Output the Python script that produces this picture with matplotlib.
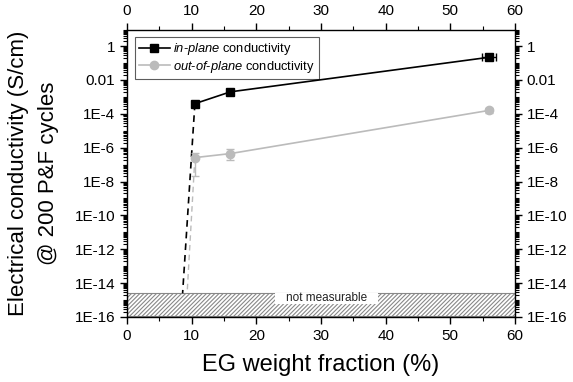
import matplotlib
matplotlib.use("Agg")
import matplotlib.pyplot as plt
import numpy as np
from matplotlib.ticker import FixedLocator, LogLocator, NullFormatter, MultipleLocator
from matplotlib.lines import Line2D

plt.rcParams['font.family'] = ['Liberation Sans', 'DejaVu Sans']
plt.rcParams['mathtext.fontset'] = 'custom'
plt.rcParams['mathtext.it'] = 'Liberation Sans:italic'
plt.rcParams['mathtext.rm'] = 'Liberation Sans'
plt.rcParams['hatch.color'] = '#555555'
plt.rcParams['hatch.linewidth'] = 0.8

# data
inplane_x = [10.5, 16, 56]
inplane_y = [4e-4, 2e-3, 0.22]
inplane_xerr = [0, 0, 1.1]

outplane_x = [10.5, 16, 56]
outplane_y = [2.6e-7, 4.5e-7, 1.6e-4]
outplane_yerr_lo = [2.4e-7, 2.5e-7, 0.5e-4]
outplane_yerr_hi = [2.4e-7, 3.5e-7, 0.6e-4]

# extrapolation (dashed) lines down to non-measurable region
inplane_extrap_x = [10.5, 8.6]
inplane_extrap_y = [4e-4, 2.5e-15]
outplane_extrap_x = [10.5, 9.3]
outplane_extrap_y = [2.6e-7, 2.5e-15]

ytick_vals = [1e-16, 1e-14, 1e-12, 1e-10, 1e-8, 1e-6, 1e-4, 1e-2, 1]
ytick_labels = ['1E-16', '1E-14', '1E-12', '1E-10', '1E-8', '1E-6', '1E-4', '0.01', '1']
xtick_vals = [0, 10, 20, 30, 40, 50, 60]

fig = plt.figure(figsize=(5.73, 3.82), dpi=100)
ax = fig.add_axes([0.2216, 0.1702, 0.8988 - 0.2216, 0.9215 - 0.1702])

ax.set_yscale('log')
ax.set_xlim(0, 60)
ax.set_ylim(1e-16, 9)

# not measurable region
ax.fill_between([0, 60], 1.1e-16, 2.6e-15, facecolor='white', edgecolor='#888888',
                hatch='////////', linewidth=0.8, zorder=1)
ax.fill_between([22.9, 38.8], 5.5e-16, 2.7e-15, facecolor='white', edgecolor='none',
                linewidth=0, zorder=1.5)
ax.text(30.8, 1.3e-15, 'not measurable', ha='center', va='center', fontsize=8.5,
        color='#222222', zorder=2)

ax.plot(inplane_extrap_x, inplane_extrap_y, color='black', ls=(0, (4, 3)), lw=1.2, zorder=3)
ax.plot(outplane_extrap_x, outplane_extrap_y, color='#bbbbbb', ls=(0, (4, 3)), lw=1.0, zorder=3)

ax.errorbar(outplane_x, outplane_y, yerr=[outplane_yerr_lo, outplane_yerr_hi],
            color='#bbbbbb', marker='o', ms=6, lw=1.2, capsize=3, elinewidth=1, zorder=4)
ax.errorbar(inplane_x, inplane_y, xerr=inplane_xerr,
            color='black', marker='s', ms=6, lw=1.2, capsize=3, elinewidth=1, zorder=5)

handles = [Line2D([], [], color='black', marker='s', ms=6, lw=1.2),
           Line2D([], [], color='#bbbbbb', marker='o', ms=6, lw=1.2)]
labels = ['$\\it{in}$-$\\it{plane}$ conductivity',
          '$\\it{out}$-$\\it{of}$-$\\it{plane}$ conductivity']
leg = ax.legend(handles, labels, loc='upper left', fontsize=9.3,
                frameon=True, fancybox=False, edgecolor='#333333',
                bbox_to_anchor=(0.02, 0.975), borderpad=0.3, labelspacing=0.15,
                handlelength=2.4, handletextpad=0.3, borderaxespad=0)
leg.get_frame().set_linewidth(0.8)

ax.yaxis.set_major_locator(FixedLocator(ytick_vals))
ax.set_yticklabels(ytick_labels)
ax.yaxis.set_minor_locator(LogLocator(base=10, subs=np.arange(1, 10), numticks=100))
ax.yaxis.set_minor_formatter(NullFormatter())
ax.xaxis.set_major_locator(FixedLocator(xtick_vals))
ax.xaxis.set_minor_locator(MultipleLocator(5))

ax.tick_params(which='both', direction='out', top=True, right=True,
               labeltop=True, labelright=True, labelsize=11)
ax.tick_params(which='major', length=5, width=1)
ax.tick_params(which='minor', length=3, width=0.8)
for s in ax.spines.values():
    s.set_linewidth(1.0)

ax.set_xlabel('EG weight fraction (%)', fontsize=17, labelpad=8)
ax.set_ylabel('Electrical conductivity (S/cm)\n@ 200 P&F cycles', fontsize=16,
              labelpad=11, linespacing=1.55)

fig.savefig('out.png', dpi=100)
